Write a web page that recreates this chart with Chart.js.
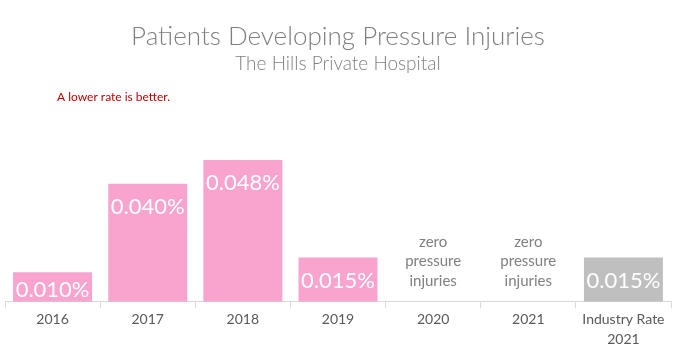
<!DOCTYPE html>
<html><head><meta charset="utf-8">
<script src="https://cdn.jsdelivr.net/npm/chart.js@4"></script>
<style>html,body{margin:0;padding:0;background:#fff}#wrap{width:675px;height:359px}</style>
</head><body><div id="wrap"><canvas id="c"></canvas></div>
<script>
const categories = ['2016','2017','2018','2019','2020','2021',['Industry Rate','2021']];
const rates = [0.010, 0.040, 0.048, 0.015, 0, 0, 0.015];
const barColors = ['#F9A3CF','#F9A3CF','#F9A3CF','#F9A3CF','#F9A3CF','#F9A3CF','#BFBFBF'];
const zeroText = ['zero','pressure','injuries'];
const titleText = 'Patients Developing Pressure Injuries';
const subtitleText = 'The Hills Private Hospital';
const noteText = 'A lower rate is better.';

const FONT = "Lato, 'Open Sans', 'Noto Sans', sans-serif";

const labelsPlugin = {
  id: 'barLabels',
  afterDatasetsDraw(chart) {
    const ctx = chart.ctx;
    const meta = chart.getDatasetMeta(0);
    const base = chart.scales.y.getPixelForValue(0);
    ctx.save();
    ctx.textAlign = 'center';
    ctx.textBaseline = 'middle';
    meta.data.forEach((bar, i) => {
      const v = rates[i];
      if (v > 0) {
        ctx.fillStyle = '#FFFFFF';
        ctx.font = "22px " + FONT;
        const y = Math.min(bar.y + 23, base - 12);
        ctx.fillText(v.toFixed(3) + '%', bar.x, y);
      } else {
        ctx.fillStyle = '#808080';
        ctx.font = "15px " + FONT;
        zeroText.forEach((t, k) => ctx.fillText(t, bar.x, base - 60 + k * 19.5));
      }
    });
    ctx.restore();
  },
  afterDraw(chart) {
    const ctx = chart.ctx;
    ctx.save();
    ctx.fillStyle = '#C00000';
    ctx.font = "12px " + FONT;
    ctx.textAlign = 'left';
    ctx.textBaseline = 'middle';
    ctx.fillText(noteText, 57, 97);
    ctx.restore();
  }
};

new Chart(document.getElementById('c'), {
  type: 'bar',
  data: {
    labels: categories,
    datasets: [{
      data: rates,
      backgroundColor: barColors,
      borderWidth: 0,
      categoryPercentage: 1,
      barPercentage: 0.83
    }]
  },
  options: {
    responsive: true,
    maintainAspectRatio: false,
    animation: false,
    layout: { padding: { left: 5, right: 4, top: 0, bottom: 8 } },
    plugins: {
      legend: { display: false },
      tooltip: { enabled: false },
      title: {
        display: true, text: titleText, color: '#7F7F7F',
        font: { family: FONT, size: 26, weight: '300', lineHeight: 1.2 },
        padding: { top: 21, bottom: 0 }
      },
      subtitle: {
        display: true, text: subtitleText, color: '#7F7F7F',
        font: { family: FONT, size: 19, weight: '300', lineHeight: 1.2 },
        padding: { top: 0, bottom: 20 }
      }
    },
    scales: {
      x: {
        offset: true,
        grid: { offset: true, drawOnChartArea: false, drawTicks: true, tickLength: 6, color: '#D9D9D9' },
        border: { display: true, color: '#D9D9D9', width: 1 },
        ticks: { color: '#595959', font: { family: FONT, size: 14, lineHeight: 1.4 }, padding: 2, maxRotation: 0, autoSkip: false }
      },
      y: {
        display: false,
        min: 0, max: 0.07
      }
    }
  },
  plugins: [labelsPlugin]
});
</script>
</body></html>
